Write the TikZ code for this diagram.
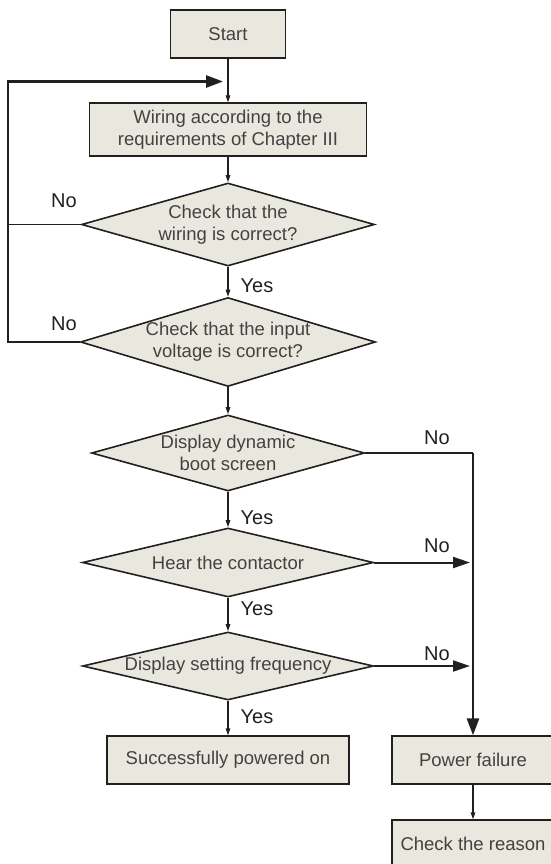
\documentclass[tikz,border=0pt]{standalone}
\usepackage{fontspec}
\setmainfont{Liberation Sans}
\usetikzlibrary{shapes.geometric,arrows.meta}
\definecolor{boxfill}{HTML}{E9E8DE}
\definecolor{ink}{HTML}{231F20}

\begin{document}
\begin{tikzpicture}[x=1pt,y=-1pt,
    box/.style={draw=ink,fill=boxfill,line width=1.3pt,inner sep=0pt,align=center,
        font=\fontsize{18.5}{22}\selectfont,text=ink!85},
    dec/.style={draw=ink,fill=boxfill,shape=diamond,line width=1.6pt,inner sep=0pt,
        label={[align=center,font=\fontsize{18.5}{22}\selectfont,text=ink!85]center:#1}},
    lab/.style={font=\fontsize{20}{22}\selectfont,text=ink,inner sep=0pt},
    arr/.style={draw=ink,line width=1.3pt,-{Triangle[length=7pt,width=4.5pt]}},
    mid/.style={draw=ink,line width=2pt,-{Triangle[length=17pt,width=11pt]},shorten >=3pt},
    big/.style={draw=ink,line width=2.6pt,-{Triangle[length=17pt,width=12pt]}}]
    \useasboundingbox (0,0) rectangle (550,864);
    \node[box,minimum width=115pt,minimum height=48pt](start)at (228,34){Start};
    \node[box,minimum width=277pt,minimum height=53pt](wire)at (228,129.5){Wiring according to the\\requirements of Chapter III};
    \node[dec={Check that the\\wiring is correct?},minimum width=293pt,minimum height=83pt](c1)at (228,224.5){};
    \node[dec={Check that the input\\voltage is correct?},minimum width=295pt,minimum height=89pt](c2)at (228,342){};
    \node[dec={Display dynamic\\boot screen},minimum width=273pt,minimum height=76pt](d1)at (228,453){};
    \node[dec={Hear the contactor},minimum width=291pt,minimum height=69pt](d2)at (228,562.5){};
    \node[dec={Display setting frequency},minimum width=291pt,minimum height=68pt](d3)at (228,666){};
    \node[box,minimum width=242pt,minimum height=48pt](ok)at (228,760){Successfully powered on};
    \node[box,minimum width=162pt,minimum height=48pt](fail)at (473,760){Power failure};
    \node[box,minimum width=162pt,minimum height=48pt](reason)at (473,844){Check the reason};
    \coordinate(j)at (228,81.5);
    \coordinate(l)at (8,81.5);
    \draw[arr](start)--(wire);
    \draw[arr](wire)--(c1);
    \draw[arr](c1)--(c2);
    \draw[arr](c2)--(d1);
    \draw[arr](d1)--(d2);
    \draw[arr](d2)--(d3);
    \draw[arr](d3)--(ok);
    \draw[arr](fail)--(reason);
    \draw[big,shorten >=5pt](c2.west)-|(l)--(j);
    \draw[draw=ink,line width=1.3pt](c1.west)--(c1.west-|l);
    \draw[draw=ink,line width=1.3pt](d1.east)--(d1.east-|fail.north);
    \draw[big](d1.east-|fail.north)--(fail.north);
    \draw[mid](d2.east)--(d2.east-|fail.north);
    \draw[mid](d3.east)--(d3.east-|fail.north);
    \node[lab](no1)at (64,201){No};
    \node[lab](no2)at (64,324){No};
    \node[lab](no3)at (437,438){No};
    \node[lab](no4)at (437,546){No};
    \node[lab](no5)at (437,654){No};
    \node[lab](yes1)at (257,286){Yes};
    \node[lab](yes2)at (257,518){Yes};
    \node[lab](yes3)at (257,609){Yes};
    \node[lab](yes4)at (257,717){Yes};
\end{tikzpicture}
\end{document}
